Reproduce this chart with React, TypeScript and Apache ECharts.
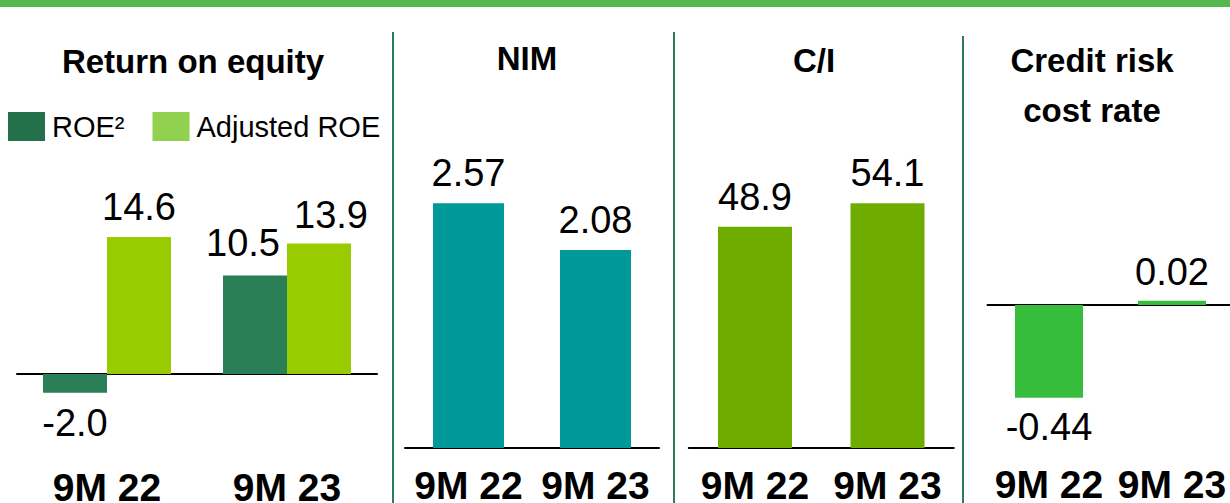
import React, { useEffect, useRef } from "react";
import * as echarts from "echarts";

const categories = ["9M 22", "9M 23"];
const roe = [-2.0, 10.5];
const adjustedRoe = [14.6, 13.9];
const nim = [2.57, 2.08];
const costIncome = [48.9, 54.1];
const creditRisk = [-0.44, 0.02];

const panelTitles = ["Return on equity", "NIM", "C/I", "Credit risk\ncost rate"];
const legendNames = ["ROE²", "Adjusted ROE"];

const FONT = "'Liberation Sans', Arial, Helvetica, sans-serif";

export default function App() {
  const ref = useRef<HTMLDivElement>(null);

  useEffect(() => {
    if (!ref.current) return;
    const chart = echarts.init(ref.current, null, { renderer: "svg" });

    const valueLabel = (decimals: number) => ({
      show: true,
      fontSize: 38,
      color: "#000",
      fontFamily: FONT,
      distance: 11,
      formatter: (p: any) => Number(p.value).toFixed(decimals),
    });

    const items = (vals: number[], offsets?: (number[] | undefined)[]) =>
      vals.map((v, i) => ({
        value: v,
        label: {
          position: v < 0 ? "bottom" : "top",
          ...(offsets && offsets[i] ? { offset: offsets[i] } : {}),
        },
      }));

    // With onZero the labels are laid out from the grid's bottom edge.
    const catAxis = (gridIndex: number, margin: number) => ({
      type: "category",
      gridIndex,
      data: categories,
      axisLine: { onZero: true, lineStyle: { color: "#000", width: 2 } },
      axisTick: { show: false },
      axisLabel: {
        margin,
        fontSize: 39,
        fontWeight: "bold",
        color: "#000",
        fontFamily: FONT,
        interval: 0,
      },
    });

    const valAxis = (gridIndex: number, min: number, max: number) => ({
      type: "value",
      gridIndex,
      min,
      max,
      show: false,
      splitLine: { show: false },
    });

    const titleText = (text: string, x: number, y: number, size = 32, lineHeight = 40) => ({
      type: "text",
      x,
      y,
      style: {
        text,
        fill: "#000",
        font: `bold ${size}px ${FONT}`,
        align: "center",
        verticalAlign: "middle",
        textAlign: "center",
        textVerticalAlign: "middle",
        lineHeight,
      },
    });

    const divider = (x: number, y: number) => ({
      type: "rect",
      shape: { x, y, width: 2, height: 503 - y },
      style: { fill: "#2e7d57" },
    });

    const option: any = {
      animation: false,
      backgroundColor: "#fff",
      legend: {
        left: 8,
        top: 112,
        padding: 0,
        itemWidth: 37,
        itemHeight: 29,
        itemGap: 28,
        selectedMode: false,
        icon: "rect",
        textStyle: { fontSize: 29, color: "#000", fontFamily: FONT, padding: [0, 0, 0, 2] },
        data: [
          { name: legendNames[0], itemStyle: { color: "#23704b" } },
          { name: legendNames[1], itemStyle: { color: "#92d050" } },
        ],
      },
      grid: [
        { left: 17, width: 360, top: 223.9, height: 178.2, outerBoundsMode: "none" },
        { left: 405, width: 254, top: 162.25, height: 285.75, outerBoundsMode: "none" },
        { left: 688.75, width: 265, top: 176.5, height: 271.5, outerBoundsMode: "none" },
        { left: 987.5, width: 246, top: 283.9, height: 126.6, outerBoundsMode: "none" },
      ],
      xAxis: [catAxis(0, 66), catAxis(1, 18), catAxis(2, 18), catAxis(3, 54)],
      yAxis: [valAxis(0, -3, 16), valAxis(1, 0, 3), valAxis(2, 0, 60), valAxis(3, -0.5, 0.1)],
      series: [
        {
          name: legendNames[0],
          type: "bar",
          xAxisIndex: 0,
          yAxisIndex: 0,
          barWidth: 64,
          barGap: "0%",
          itemStyle: { color: "#2a7f57" },
          label: valueLabel(1),
          data: items(roe, [undefined, [-12, -2]]),
        },
        {
          name: legendNames[1],
          type: "bar",
          xAxisIndex: 0,
          yAxisIndex: 0,
          barWidth: 64,
          barGap: "0%",
          itemStyle: { color: "#99cc00" },
          label: valueLabel(1),
          data: items(adjustedRoe, [undefined, [12, 1]]),
        },
        {
          name: "NIM",
          type: "bar",
          xAxisIndex: 1,
          yAxisIndex: 1,
          barWidth: 71,
          itemStyle: { color: "#009999" },
          label: valueLabel(2),
          data: items(nim),
        },
        {
          name: "C/I",
          type: "bar",
          xAxisIndex: 2,
          yAxisIndex: 2,
          barWidth: 74,
          itemStyle: { color: "#6fac00" },
          label: valueLabel(1),
          data: items(costIncome),
        },
        {
          name: "Credit risk cost rate",
          type: "bar",
          xAxisIndex: 3,
          yAxisIndex: 3,
          barWidth: 68,
          itemStyle: { color: "#35bd3b" },
          label: { ...valueLabel(2), distance: 10 },
          data: items(creditRisk),
        },
      ],
      graphic: [
        { type: "rect", shape: { x: 0, y: 0, width: 1230, height: 7 }, style: { fill: "#55b84b" } },
        divider(392, 32),
        divider(673, 32),
        divider(962, 36),
        titleText(panelTitles[0], 193, 61, 33),
        titleText(panelTitles[1], 527, 58, 33),
        titleText(panelTitles[2], 814, 60, 33),
        titleText(panelTitles[3], 1092, 85, 33, 50),
      ],
    };

    chart.setOption(option);
    return () => chart.dispose();
  }, []);

  return (
    <div
      ref={ref}
      style={{ position: "fixed", left: 0, top: 0, width: 1230, height: 503 }}
    />
  );
}
